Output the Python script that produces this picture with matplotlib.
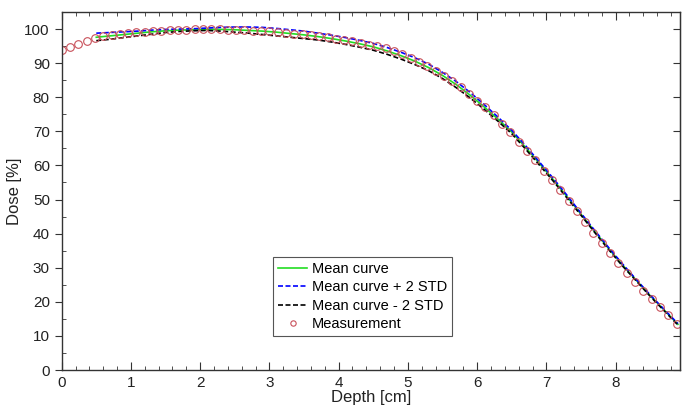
import matplotlib
matplotlib.use('Agg')
import matplotlib.pyplot as plt
from matplotlib.ticker import MultipleLocator, NullLocator

plt.rcParams['font.family'] = ['Liberation Sans', 'DejaVu Sans']

# measurement points (depth in cm, dose in %)
meas_depth = [0.00, 0.12, 0.24, 0.36, 0.48, 0.60, 0.72, 0.84, 0.96, 1.08,
              1.20, 1.32, 1.44, 1.56, 1.68, 1.80, 1.92, 2.04, 2.16, 2.28,
              2.40, 2.52, 2.64, 2.76, 2.88, 3.00, 3.12, 3.24, 3.36, 3.48,
              3.60, 3.72, 3.84, 3.96, 4.08, 4.20, 4.32, 4.44, 4.56, 4.68,
              4.80, 4.92, 5.04, 5.16, 5.28, 5.40, 5.52, 5.64, 5.76, 5.88,
              6.00, 6.12, 6.24, 6.36, 6.48, 6.60, 6.72, 6.84, 6.96, 7.08,
              7.20, 7.32, 7.44, 7.56, 7.68, 7.80, 7.92, 8.04, 8.16, 8.28,
              8.40, 8.52, 8.64, 8.76, 8.88]
meas_dose = [93.8, 94.8, 95.7, 96.6, 97.4, 97.9, 98.2, 98.5, 98.8, 99.0,
             99.2, 99.4, 99.5, 99.6, 99.7, 99.8, 99.9, 100.0, 100.0, 99.9,
             99.8, 99.7, 99.6, 99.5, 99.4, 99.3, 99.1, 98.9, 98.7, 98.5,
             98.2, 97.9, 97.6, 97.2, 96.8, 96.4, 95.9, 95.4, 95.0, 94.4,
             93.6, 92.6, 91.5, 90.3, 89.1, 87.8, 86.3, 84.7, 82.9, 81.0,
             78.9, 77.0, 74.8, 72.1, 69.9, 67.0, 64.3, 61.6, 58.5, 55.8,
             52.8, 49.7, 46.5, 43.3, 40.2, 37.2, 34.3, 31.4, 28.6, 25.9,
             23.3, 20.8, 18.4, 16.1, 13.4]

# calculated curves
curve_depth = [0.5, 0.7, 0.9, 1.1, 1.3, 1.5, 1.7, 1.9, 2.1, 2.3,
               2.5, 2.7, 2.9, 3.1, 3.3, 3.5, 3.7, 3.9, 4.1, 4.3,
               4.5, 4.7, 4.9, 5.1, 5.3, 5.5, 5.7, 5.9, 6.1, 6.3,
               6.5, 6.7, 6.9, 7.1, 7.3, 7.5, 7.7, 7.9, 8.1, 8.3,
               8.5, 8.7, 8.9]
mean_curve = [97.6, 98.0, 98.4, 98.8, 99.2, 99.5, 99.7, 99.8, 99.9, 99.9,
              99.8, 99.6, 99.4, 99.1, 98.7, 98.3, 97.8, 97.2, 96.5, 95.7,
              94.8, 93.6, 92.2, 90.6, 88.7, 86.4, 83.7, 80.6, 77.2, 73.6,
              69.8, 65.3, 60.6, 55.8, 50.8, 45.7, 40.6, 35.6, 30.8, 26.3,
              21.8, 17.6, 13.4]
upper_curve = [98.8, 99.0, 99.2, 99.4, 99.7, 99.9, 100.0, 100.1, 100.3, 100.5,
               100.6, 100.6, 100.5, 100.2, 99.8, 99.4, 98.8, 98.2, 97.5, 96.7,
               95.8, 94.6, 93.2, 91.6, 89.7, 87.3, 84.6, 81.4, 77.9, 74.2,
               70.3, 65.8, 61.0, 56.2, 51.2, 46.0, 40.9, 35.9, 31.1, 26.5,
               22.0, 17.8, 13.6]
lower_curve = [96.6, 97.0, 97.5, 98.0, 98.5, 99.0, 99.3, 99.5, 99.6, 99.4,
               99.1, 98.8, 98.4, 98.0, 97.6, 97.2, 96.8, 96.2, 95.5, 94.7,
               93.8, 92.6, 91.2, 89.6, 87.8, 85.5, 82.8, 79.8, 76.5, 73.0,
               69.3, 64.8, 60.1, 55.4, 50.4, 45.4, 40.3, 35.3, 30.5, 26.1,
               21.6, 17.4, 13.2]

fig = plt.figure(figsize=(6.83, 4.05), dpi=100)
ax = fig.add_axes([0.0903, 0.0864, 0.9053, 0.8839])

ax.plot(curve_depth, mean_curve, '-', color='#22dd22', lw=1.2, label='Mean curve')
ax.plot(curve_depth, upper_curve, '--', color='#0000ff', lw=1.2, dashes=(3, 1.5),
        label='Mean curve + 2 STD')
ax.plot(curve_depth, lower_curve, '--', color='black', lw=1.2, dashes=(3, 1.5),
        label='Mean curve - 2 STD')
ax.plot(meas_depth, meas_dose, 'o', mfc='none', mec='#c8505a', ms=5.5, mew=0.8,
        label='Measurement')

ax.set_xlim(0, 8.93)
ax.set_ylim(0, 105)
ax.xaxis.set_major_locator(MultipleLocator(1))
ax.xaxis.set_minor_locator(MultipleLocator(0.2))
ax.yaxis.set_major_locator(MultipleLocator(10))
ax.yaxis.set_minor_locator(MultipleLocator(5))

ax.tick_params(axis='x', which='both', direction='in', top=True, bottom=True,
               labelsize=11, colors='#333333', labelcolor='#222222', pad=4)
ax.tick_params(axis='x', which='major', length=6)
ax.tick_params(axis='x', which='minor', length=3)
ax.tick_params(axis='y', which='major', direction='out', left=True, right=False,
               length=5, labelsize=11, colors='#333333', labelcolor='#222222')
ax.tick_params(axis='y', which='minor', direction='in', left=True, right=False, length=3,
               colors='#333333')

sec = ax.secondary_yaxis('right')
sec.yaxis.set_major_locator(MultipleLocator(10))
sec.yaxis.set_minor_locator(NullLocator())
sec.tick_params(direction='in', length=5, labelright=False, colors='#333333')

for s in ax.spines.values():
    s.set_color('#333333')
    s.set_linewidth(1.0)

ax.set_xlabel('Depth [cm]', fontsize=12, color='#222222', labelpad=0)
ax.set_ylabel('Dose [%]', fontsize=12, color='#222222', labelpad=2)

leg = ax.legend(loc='upper left', bbox_to_anchor=(0.342, 0.316), fontsize=10.5,
                fancybox=False, framealpha=1, edgecolor='#555555',
                handlelength=2.0, handletextpad=0.3, borderpad=0.35,
                labelspacing=0.3, borderaxespad=0, markerscale=0.7)
leg.get_frame().set_linewidth(0.8)

fig.savefig('out.png', dpi=100)
